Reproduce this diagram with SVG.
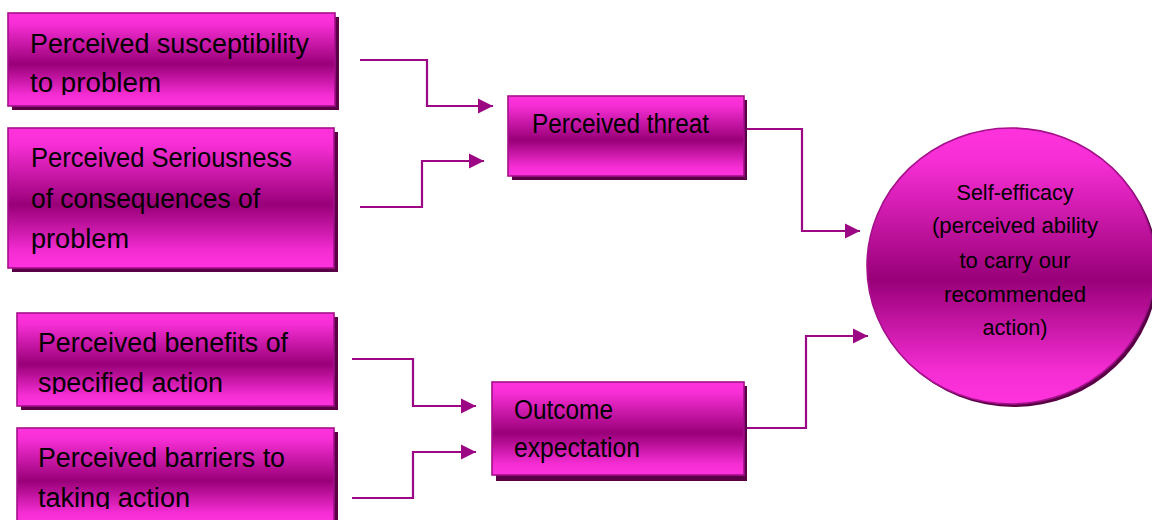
<svg xmlns="http://www.w3.org/2000/svg" width="1152" height="520" viewBox="0 0 1152 520">
  <defs>
    <linearGradient id="gloss" x1="0" y1="0" x2="0" y2="1">
      <stop offset="0" stop-color="#ff33dd"/>
      <stop offset="0.12" stop-color="#f62ed5"/>
      <stop offset="0.55" stop-color="#990078"/>
      <stop offset="0.88" stop-color="#f42dd3"/>
      <stop offset="1" stop-color="#ff33dd"/>
    </linearGradient>
    <marker id="arrow" markerWidth="16" markerHeight="16" refX="15" refY="8" orient="auto" markerUnits="userSpaceOnUse">
      <path d="M0,0.5 L15,8 L0,15.5 Z" fill="#9c0784"/>
    </marker>
    <clipPath id="clip-n1"><rect x="8" y="13" width="327" height="82"/></clipPath>
    <clipPath id="clip-n3"><rect x="17" y="313" width="317" height="81"/></clipPath>
    <clipPath id="clip-n4"><rect x="17" y="428" width="317" height="81"/></clipPath>
  </defs>
  <style>
    .shadow { fill: #5a0046; }
    .box { fill: url(#gloss); stroke: #a3108a; stroke-width: 1.6; }
    .label { font-family: "Liberation Sans", Arial, sans-serif; font-size: 27px; fill: #000000; }
    .small { font-family: "Liberation Sans", Arial, sans-serif; font-size: 22px; fill: #000000; text-anchor: middle; }
    .wire { fill: none; stroke: #9c0784; stroke-width: 2.2; marker-end: url(#arrow); }
  </style>

  <!-- connectors -->
  <g id="connectors">
    <path class="wire" d="M360,60 H427 V106 H493"/>
    <path class="wire" d="M360,207 H422 V161 H484"/>
    <path class="wire" d="M745,129 H802 V231 H860"/>
    <path class="wire" d="M352,359 H413 V406 H476"/>
    <path class="wire" d="M352,498 H413 V452 H476"/>
    <path class="wire" d="M745,428 H806 V336 H868"/>
  </g>

  <g id="susceptibility">
    <rect class="shadow" x="12" y="17" width="327" height="93"/>
    <rect class="box" x="8" y="13" width="327" height="93"/>
    <g clip-path="url(#clip-n1)">
      <text class="label" x="30" y="53" textLength="279" lengthAdjust="spacingAndGlyphs">Perceived susceptibility</text>
      <text class="label" x="30" y="92" textLength="131" lengthAdjust="spacingAndGlyphs">to problem</text>
    </g>
  </g>

  <g id="seriousness">
    <rect class="shadow" x="12" y="132" width="326" height="140"/>
    <rect class="box" x="8" y="128" width="326" height="140"/>
    <text class="label" x="31" y="167" textLength="261" lengthAdjust="spacingAndGlyphs">Perceived Seriousness</text>
    <text class="label" x="31" y="208" textLength="229" lengthAdjust="spacingAndGlyphs">of consequences of</text>
    <text class="label" x="31" y="248" textLength="98" lengthAdjust="spacingAndGlyphs">problem</text>
  </g>

  <g id="benefits">
    <rect class="shadow" x="21" y="317" width="317" height="93"/>
    <rect class="box" x="17" y="313" width="317" height="93"/>
    <g clip-path="url(#clip-n3)">
      <text class="label" x="38" y="352" textLength="250" lengthAdjust="spacingAndGlyphs">Perceived benefits of</text>
      <text class="label" x="38" y="392" textLength="185" lengthAdjust="spacingAndGlyphs">specified action</text>
    </g>
  </g>

  <g id="barriers">
    <rect class="shadow" x="21" y="432" width="317" height="96"/>
    <rect class="box" x="17" y="428" width="317" height="96"/>
    <g clip-path="url(#clip-n4)">
      <text class="label" x="38" y="467" textLength="247" lengthAdjust="spacingAndGlyphs">Perceived barriers to</text>
      <text class="label" x="38" y="507" textLength="152" lengthAdjust="spacingAndGlyphs">taking action</text>
    </g>
  </g>

  <g id="threat">
    <rect class="shadow" x="512" y="100" width="235" height="80"/>
    <rect class="box" x="508" y="96" width="236" height="80"/>
    <text class="label" x="532" y="133" textLength="177" lengthAdjust="spacingAndGlyphs">Perceived threat</text>
  </g>

  <g id="outcome">
    <rect class="shadow" x="496" y="386" width="251" height="95"/>
    <rect class="box" x="492" y="382" width="252" height="93"/>
    <text class="label" x="514" y="419" textLength="99" lengthAdjust="spacingAndGlyphs">Outcome</text>
    <text class="label" x="514" y="457" textLength="126" lengthAdjust="spacingAndGlyphs">expectation</text>
  </g>

  <g id="self-efficacy">
    <ellipse class="shadow" cx="1014" cy="269" rx="144" ry="138"/>
    <ellipse class="box" cx="1011" cy="266" rx="144" ry="138"/>
    <text class="small" x="1015" y="200" textLength="117" lengthAdjust="spacingAndGlyphs">Self-efficacy</text>
    <text class="small" x="1015" y="233" textLength="166" lengthAdjust="spacingAndGlyphs">(perceived ability</text>
    <text class="small" x="1015" y="268" textLength="111" lengthAdjust="spacingAndGlyphs">to carry our</text>
    <text class="small" x="1015" y="302" textLength="142" lengthAdjust="spacingAndGlyphs">recommended</text>
    <text class="small" x="1015" y="335" textLength="65" lengthAdjust="spacingAndGlyphs">action)</text>
  </g>
</svg>
